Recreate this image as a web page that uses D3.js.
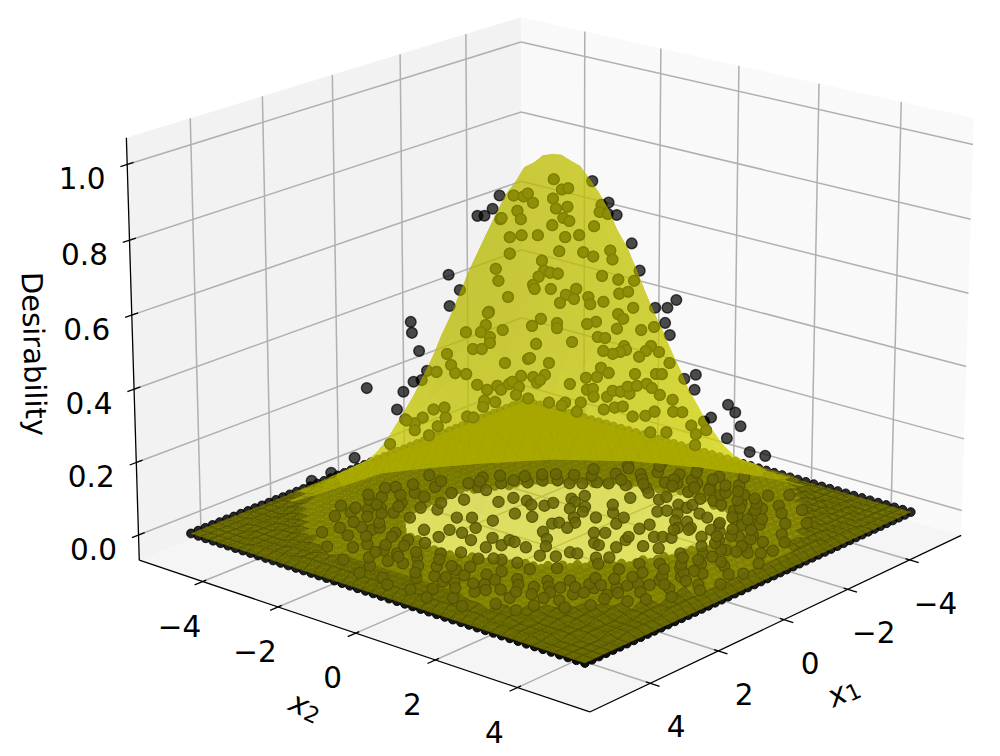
<!DOCTYPE html>
<html>
<head>
<meta charset="utf-8">
<script src="https://cdn.jsdelivr.net/npm/d3@7"></script>
<style>
  body { margin: 0; background: #fff; }
  text { font-family: "DejaVu Sans", sans-serif; fill: #000; }
</style>
</head>
<body>
<svg id="chart" width="1000" height="756"></svg>
<script>
// tick labels
const xTicks = [-4, -2, 0, 2, 4];
const zTicks = [0, 0.2, 0.4, 0.6, 0.8, 1.0];

// axis limits
const xLimits = [-5.72, 5.72];
const zLimits = [-0.07, 1.07];

// regular sample lattice, lies flat at desirability 0
const latticeTicks = [-5, -4.8, -4.6, -4.4, -4.2, -4, -3.8, -3.6, -3.4, -3.2, -3, -2.8, -2.6, -2.4, -2.2, -2, -1.8, -1.6, -1.4, -1.2, -1, -0.8, -0.6, -0.4, -0.2, 0, 0.2, 0.4, 0.6, 0.8, 1, 1.2, 1.4, 1.6, 1.8, 2, 2.2, 2.4, 2.6, 2.8, 3, 3.2, 3.4, 3.6, 3.8, 4, 4.2, 4.4, 4.6, 4.8, 5];

// surface mesh nodes
const surfaceTicks = [-5, -4.75, -4.5, -4.25, -4, -3.75, -3.5, -3.25, -3, -2.75, -2.5, -2.25, -2, -1.75, -1.5, -1.25, -1, -0.75, -0.5, -0.25, 0, 0.25, 0.5, 0.75, 1, 1.25, 1.5, 1.75, 2, 2.25, 2.5, 2.75, 3, 3.25, 3.5, 3.75, 4, 4.25, 4.5, 4.75, 5];

// surface height in percent, one quadrant, index = |x| / 0.25 (the peak looks symmetric)
const surfaceQuadrant = [
  [100, 99, 96, 92, 86, 79, 72, 64, 56, 48, 40, 33, 27, 21, 17, 13, 10, 7, 4, 2, 0],
  [99, 98, 96, 91, 86, 79, 71, 63, 55, 47, 40, 33, 26, 21, 16, 13, 9, 7, 4, 2, 0],
  [96, 96, 93, 89, 83, 77, 69, 61, 54, 46, 38, 32, 26, 20, 16, 12, 9, 7, 4, 2, 0],
  [92, 91, 89, 85, 79, 73, 66, 59, 51, 44, 37, 30, 25, 19, 15, 12, 9, 6, 4, 2, 0],
  [86, 86, 83, 79, 75, 69, 62, 55, 48, 41, 34, 28, 23, 18, 14, 11, 8, 6, 4, 2, 0],
  [79, 79, 77, 73, 69, 63, 57, 51, 44, 38, 32, 26, 21, 17, 13, 10, 8, 6, 4, 2, 0],
  [72, 71, 69, 66, 62, 57, 52, 46, 40, 34, 29, 24, 19, 15, 12, 9, 7, 5, 4, 2, 0],
  [64, 63, 61, 59, 55, 51, 46, 41, 35, 30, 25, 21, 17, 13, 11, 8, 6, 4, 3, 2, 0],
  [56, 55, 54, 51, 48, 44, 40, 35, 31, 26, 22, 18, 15, 12, 9, 7, 5, 4, 3, 2, 0],
  [48, 47, 46, 44, 41, 38, 34, 30, 26, 23, 19, 16, 13, 10, 8, 6, 5, 3, 2, 2, 0],
  [40, 40, 38, 37, 34, 32, 29, 25, 22, 19, 16, 13, 11, 8, 7, 5, 4, 3, 2, 1, 0],
  [33, 33, 32, 30, 28, 26, 24, 21, 18, 16, 13, 11, 9, 7, 5, 4, 3, 2, 2, 1, 0],
  [27, 26, 26, 25, 23, 21, 19, 17, 15, 13, 11, 9, 7, 6, 4, 3, 3, 2, 1, 1, 0],
  [21, 21, 20, 19, 18, 17, 15, 13, 12, 10, 8, 7, 6, 4, 3, 3, 2, 1, 1, 1, 0],
  [17, 16, 16, 15, 14, 13, 12, 11, 9, 8, 7, 5, 4, 3, 3, 2, 2, 1, 1, 1, 0],
  [13, 13, 12, 12, 11, 10, 9, 8, 7, 6, 5, 4, 3, 3, 2, 2, 1, 1, 1, 0, 0],
  [10, 9, 9, 9, 8, 8, 7, 6, 5, 5, 4, 3, 3, 2, 2, 1, 1, 1, 0, 0, 0],
  [7, 7, 7, 6, 6, 6, 5, 4, 4, 3, 3, 2, 2, 1, 1, 1, 1, 0, 0, 0, 0],
  [4, 4, 4, 4, 4, 4, 4, 3, 3, 2, 2, 2, 1, 1, 1, 1, 0, 0, 0, 0, 0],
  [2, 2, 2, 2, 2, 2, 2, 2, 2, 2, 1, 1, 1, 1, 1, 0, 0, 0, 0, 0, 0],
  [0, 0, 0, 0, 0, 0, 0, 0, 0, 0, 0, 0, 0, 0, 0, 0, 0, 0, 0, 0, 0]
];

// where the back of the surface stops showing through (on the z = 0 plane)
const arcX1 = [1.18, 0.13, -0.75, -1.58, -2.71, -3.7, -4.27, -4.67];
const arcX2 = [-4.51, -4.41, -3.85, -3.25, -2.29, -0.94, 0.3, 1.53];

// samples on and around the peak: x1, x2, desirability
const upperPoints = [
  [.66,-.78,.891],[.49,-.57,.891],[.75,-.88,.856],[.94,-1.1,.837],[.85,-1,.837],[.65,-.77,.828],[.36,-.43,.888],[.31,-.37,.896],[.44,-.52,.85],[.4,-.47,.828],
  [.54,-.63,.78],[.39,-.46,.785],[.54,-.63,.736],[1.3,-1.53,.679],[1.16,-1.37,.638],[.71,-.84,.695],[.68,-.8,.663],[.56,-.66,.619],[1.29,-1.52,.595],[.8,-.94,.579],
  [-.01,.01,.934],[-.49,.57,.929],[-.11,.13,.907],[-.19,.22,.91],[-.69,.81,.872],[-.79,.93,.839],[.25,-.29,.872],[0,0,.883],[-.04,.04,.856],[-.18,.21,.861],
  [-.6,.71,.866],[-.58,.68,.847],[-.68,.8,.842],[-.13,.15,.831],[-.2,.24,.823],[.01,-.01,.812],[-.51,.6,.809],[.64,-.75,.831],[.19,-.22,.785],[-.15,.18,.78],
  [-.33,.38,.785],[-.98,1.15,.763],[-.08,.09,.742],[-.38,.44,.739],[-.5,.59,.728],[-.71,.84,.744],[-.74,.87,.72],[.14,-.16,.717],[.11,-.13,.69],[.04,-.04,.685],
  [-.06,.07,.682],[.18,-.21,.674],[-1.08,1.27,.69],[-.61,.72,.676],[-.81,.96,.666],[-1.01,1.19,.663],[.25,-.29,.652],[.23,-.27,.641],[.03,-.03,.641],[-.29,.34,.641],
  [-.16,.19,.625],[-.26,.31,.614],[-.83,.97,.628],[-.94,1.1,.633],[-.44,.52,.619],[-.46,.55,.6],[-.09,.1,.603],[-.63,.74,.606],[-1.54,1.81,.611],[-1.28,1.5,.59],
  [-1.43,1.68,.59],[-1,1.18,.59],[1.78,-2.09,.552],[1.76,-2.08,.522],[1.68,-1.97,.473],[1.58,-1.86,.419],[2.34,-2.75,.372],[1.75,-2.06,.389],[1.65,-1.94,.394],[1.88,-2.21,.362],
  [1.96,-2.31,.313],[1.86,-2.19,.286],[2.05,-2.42,.218],[2.5,-2.95,.18],[.81,-.96,.576],[.84,-.99,.543],[1.09,-1.28,.524],[.9,-1.06,.524],[.63,-.74,.53],[.26,-.31,.541],
  [.79,-.93,.511],[.79,-.93,.495],[1,-1.18,.478],[.89,-1.05,.478],[1.33,-1.56,.465],[1.28,-1.5,.435],[1.23,-1.44,.413],[1.09,-1.28,.41],[1.46,-1.72,.416],[.21,-.25,.492],
  [.31,-.37,.451],[.6,-.71,.44],[.95,-1.12,.381],[.83,-.97,.367],[.7,-.82,.378],[.65,-.77,.367],[.55,-.65,.383],[.51,-.6,.389],[.43,-.5,.375],[.4,-.47,.405],
  [.25,-.29,.402],[.2,-.24,.386],[.46,-.55,.353],[.73,-.85,.334],[.86,-1.02,.337],[.88,-1.03,.321],[.31,-.37,.343],[1.5,-1.77,.313],[1.36,-1.61,.318],[1.35,-1.59,.291],
  [1.64,-1.93,.291],[1.74,-2.05,.275],[1.84,-2.17,.283],[1.74,-2.05,.256],[1.45,-1.71,.267],[1.08,-1.27,.294],[1,-1.18,.291],[1.56,-1.84,.242],[-1.4,1.65,.549],[-1.46,1.72,.516],
  [-.81,.96,.573],[-.88,1.03,.56],[-.54,.63,.552],[-.43,.5,.546],[-.8,.94,.533],[-1.1,1.3,.53],[-1.26,1.49,.538],[.15,-.18,.56],[-.05,.06,.549],[-.05,.06,.535],
  [-.56,.66,.511],[-.65,.77,.508],[-.24,.28,.497],[-.89,1.05,.486],[-.91,1.08,.476],[-.84,.99,.47],[-.75,.88,.465],[-.63,.74,.473],[-1.23,1.44,.486],[-1.16,1.37,.473],
  [-1.08,1.27,.457],[-1.33,1.56,.47],[-1.46,1.72,.44],[.05,-.06,.44],[.29,-.34,.454],[-.6,.71,.427],[-.7,.82,.413],[-.41,.49,.4],[-.55,.65,.402],[-1.03,1.21,.41],
  [-1.29,1.52,.41],[-1.36,1.61,.41],[-1.65,1.94,.397],[-1.79,2.11,.408],[-1.78,2.09,.367],[.1,-.12,.408],[.16,-.19,.394],[-.21,.25,.383],[-.43,.5,.367],[-.5,.59,.37],
  [-.51,.6,.348],[-.68,.8,.348],[-.75,.88,.364],[-.85,1,.362],[-.96,1.13,.356],[-.94,1.1,.375],[-1.05,1.24,.378],[-1.18,1.38,.383],[-1.24,1.46,.372],[-1.34,1.58,.353],
  [-1.5,1.77,.34],[-2.2,2.59,.326],[-2.29,2.7,.305],[-2.36,2.78,.267],[-1.99,2.34,.291],[-2.19,2.58,.234],[-2.48,2.92,.196],[-2.68,3.15,.185],[-1.51,1.78,.307],[-1.63,1.91,.305],
  [-1.9,2.24,.28],[-1.74,2.05,.269],[-1.8,2.12,.245],[-1.93,2.27,.256],[-.35,.41,.332],[-.15,.18,.332],[-.11,.13,.324],[.05,-.06,.332],[-.64,.75,.313],[-.78,.91,.318],
  [-.88,1.03,.321],[-1,1.18,.294],[-1.16,1.37,.296],[-1.28,1.5,.307],[-1.43,1.68,.25],[-1.23,1.44,.25],[-1.79,2.11,.215],[-.3,.35,.307],[2.8,-3.3,.139],[3.05,-3.59,.117]
];

// samples near the foot of the peak, desirability close to 0: x1, x2
const footPoints = [
  [-.17,-1.56],[-.53,-1.48],[-.58,-1.17],[-.47,-.96],[-.6,-.73],[-.83,-.7],[.11,-.89],[.02,-.52],[.68,-.97],[1.19,-.97],[.82,-1.39],[-1.24,-.57],[-1.53,-.47],[-1.15,-.41],[-.8,-.24],
  [-1.07,-.08],[-.84,.06],[-.48,.13],[-.28,.33],[-.76,.46],[.05,.02],[-.08,.09],[.03,.39],[.5,.17],[.74,.47],[1.05,.71],[1.34,.45],[-.1,.96],[-.24,1.13],[.31,1.31],
  [.34,1.45],[-.76,.98],[-1.11,.88],[-1.18,.55],[-1.51,.27],[-2.03,.29],[-2.66,.19],[-2.48,.39],[-2.52,-.23],[-2.38,-.56],[-2.32,.79],[-2.54,.8],[-1.79,1.18],[-1.95,1.29],[-2.35,1.26],
  [-1.96,1.55],[-2.33,1.49],[-2.53,1.47],[-2.89,1.38],[-3.03,.96],[-.84,1.5],[-1.14,1.51],[-1.63,1.76],[-1.36,2.04],[-1.74,1.97],[-1.53,2.23],[-2.24,1.88],[-2.17,2.13],[-2.02,2.54],[-2.97,1.65],
  [-2.9,1.9],[-3.32,1.55],[-2.81,2.3],[-3.24,2.14],[-3.62,1.91],[-2.6,2.56],[-1.7,2.6],[-1.73,2.79],[-1.76,3.24],[-2.44,2.96],[-3.25,2.65],[-2.54,3.15],[-1.84,3.77],[1.38,-.37],[1.84,-.14],
  [1.56,.02],[1.26,-.04],[1.27,.1],[1.74,-.61],[1.5,.94],[1.33,1.2],[.99,1.27],[.95,1.42],[2.06,.85],[2.14,.52],[2.19,.36],[2.38,.14],[.88,1.83],[.71,2.02],[.21,1.78],
  [-.2,1.68],[-.37,1.61],[-.17,2.14],[-.69,1.99],[-.8,2.12],[-.87,2.28],[-1.23,2.05],[-1.42,2.27],[-1.29,2.69],[-1.37,3.06],[-.28,2.44],[-.34,2.93],[-.62,3.26],[-1.04,3.49],[-1.41,3.69],
  [-1.34,4.11],[.59,2.67],[1.06,2.55],[1.1,2.07],[1.78,1.61],[2.16,1.25],[2.59,.91],[.34,2.97],[.26,3.41],[-.17,3.57],[-.37,3.98],[-.53,-2.41],[-.51,-2.18],[-.99,-2.2],[-1.28,-2.12],
  [-1.37,-1.83],[-1.65,-1.68],[-1.85,-1.45],[-1.88,-1.16],[-2.04,-.96],[-2.27,-.77],[-3.15,.27],[-3.27,.49],[-3.53,.79],[-3.53,1.13],[-3.47,1.56],[-3.99,1.5],[1.92,-1.67],[1.61,-2.32],[1.07,-2.52],
  [.93,-2.2],[1.01,-1.62],[2.43,-1.19],[2.02,-1.2],[1.6,-1.29],[1.56,-1],[1.61,-2.75],[1.58,-3.12],[1.82,-3.24],[2.4,-1.99],[2.53,-1.54],[3.23,-1.54],[3.19,-1.23],[3.1,-.79],[2.65,-.59],
  [2.35,-.33],[2.58,-2.44],[2.16,-3.39],[.53,-3.67],[.53,-3.16],[.02,-3.07],[.06,-2.6],[-.57,-2.7],[.18,-2.16],[.61,-2.39],[.57,-2.87],[1.11,-2.99],[1.12,-3.51],[1.4,-3.59],
  [3.1,.2],[3.4,-.5],[3.6,.6],[3,1.1],[3.9,-.1],[3.3,1.5],[2.8,1.9],[3.7,1.2],[4.1,.5],[2.5,2.3],[3.1,2.1],[2.1,2.8],[2.6,2.7],[1.8,3.1],[2.2,3.2],
  [1.4,3.3],[1.7,3.6],[1,3.5],[1.2,3.9],[.6,3.7],[.2,3.9],[.7,4.2],[-.1,4.3],[3.5,1.9],[3,2.7],[2.4,3.3],[1.9,3.9],[4.3,-.6],[4,-1.2],[3.7,-1.5],
  [3.5,-2.1],[3.1,-2.6],[2.9,-3],[2.5,-3.5],[2,-3.8],[4.2,1.1],[3.9,1.9],[3.5,2.5],[2.8,3.3],[1.5,4.2],[.9,4.4],[4.4,.2],[4.1,-1.8],[3.8,-2.5],[3.3,-3.1],
  [-3.8,-1.2],[-4,-.5],[-3.4,-.9],[-4.3,.2],[-4.1,.9],[-4.4,1.3],[-3.9,2.3],[-3.6,2.8],[-3.3,3.1],[-2.9,3.5],[-2.4,3.8],[-2,3.4],[-1.6,4.2],[-1.2,3.9],[-.9,4.4],
  [-.5,3.8],[-1,3.4],[-1.7,3.1],[-2.3,2.9],[-2.9,2.7],[-1.4,3.6],[-2.1,4.1],[-3.2,3.8],[-3.7,3.3],[-4.2,2.6],[-.3,4.5],[.4,4.5],[2.2,3.7],[3.2,3],[3.9,2.4],
  [4.4,1.5],[4.5,.7],[4.5,-.3],[4.4,-1.1],
  [2.9,.8],[3.2,.5],[3.4,.9],[3.6,.1],[3.7,.4],[3.3,1.1],[3.5,1.3],[2.7,1.4],[2.9,1.6],[3.2,1.8],[2.4,1.9],[2.6,2.1],[2.8,2.3],[3.1,2.4],[2.1,2.2],
  [2.3,2.5],[2,2.6],[2.4,2.8],[1.7,2.5],[1.9,2.8],[1.5,2.8],[1.6,3.2],[2,3.3],[1.2,3],[1.3,3.5],[.9,3],[.8,3.4],[1.1,3.7],[.5,3.2],[.4,3.6],
  [.1,3.3],[.2,3.7],[-.2,3.1],[-.3,3.4],[-.6,3.5],[.7,3.9],[3,0],[2.8,.3],[3.5,.3],[3.8,.8],[3.7,-.3],[3.2,-.2],[2.9,-.4],[3.5,-.8],[3.3,-1.1],
  [2.9,-1],[3.6,-1.1],[3.4,-1.6],[3,-1.7],[2.8,-1.4],[2.6,-1.9],[3.2,-2],[2.9,-2.3],[2.4,-2.4],[2.6,-2.7],[2.2,-2.6],[2.1,-3],[2.5,-3],[1.8,-2.9],[1.5,-3.3],
  [1.9,-3.5],[1.3,-2.9],[1.2,-3.8],[.8,-3.3],[.7,-3.8],[.2,-3.5],[-.3,-3.2],[-.4,-3.6],[-.9,3],[-1.2,3.1],[-1.5,2.9],[-1.1,3.7],[-1.8,3.5],[-2,2.9],[-2.2,3.2],
  [-2.1,2.5],[-2.5,2.5],[-2.6,2.8],[-2.8,3],[-3,2.3],[-3.1,2.6],[-3.4,2.4],[-3.3,2],[-3.6,2.2],[-3.7,1.7],[-3.4,1.2],[-3.8,1.3],[-3.9,.9],[-3.6,.6],[-3.3,.9],
  [-4,.4],[-3.7,.2],[-3.4,.3],[-3.1,.5],[-3.5,-.2],[-3.8,-.4],[-3.2,-.4],[-3,-.2],[-2.8,0],[-3.3,-.8],[-2.9,-.8],[-2.7,-.5],[-2.5,-1.1],[-2.8,-1.3],[-2.3,-1.4],
  [-2.1,-1.7],[-1.9,-1.9],[-1.6,-2.1],[-1.3,-2.5],[-1,-2.7],[-.8,-2.6]
];

// camera, fitted to the box corners
const elev = 19 * Math.PI / 180;
const azim = 40.3 * Math.PI / 180;
const dist = 16;
const zoom = 296;
const centerX = 553;
const centerY = 341;

const xScale = d3.scaleLinear().domain(xLimits).range([-1, 1]);
const zScale = d3.scaleLinear().domain(zLimits).range([-0.75, 0.75]);

function depthOf(x1, x2, z) {
  const g = xScale(x1) * Math.cos(azim) + xScale(x2) * Math.sin(azim);
  return g * Math.cos(elev) + zScale(z) * Math.sin(elev);
}

function project(x1, x2, z) {
  const X = xScale(x1), Y = xScale(x2), Z = zScale(z);
  const r = -X * Math.sin(azim) + Y * Math.cos(azim);
  const g = X * Math.cos(azim) + Y * Math.sin(azim);
  const up = -g * Math.sin(elev) + Z * Math.cos(elev);
  const f = dist / (dist - depthOf(x1, x2, z));
  return [centerX + zoom * r * f, centerY - zoom * up * f];
}

const polygon = d3.line().curve(d3.curveLinearClosed);
const [xMin, xMax] = xLimits;
const [zMin, zMax] = zLimits;

const svg = d3.select('#chart');
const defs = svg.append('defs');

// PANES AND GRID
const panes = svg.append('g');
function addPane(corners, color) {
  panes.append('path')
    .attr('d', polygon(corners.map(c => project(...c))))
    .attr('fill', color);
}
addPane([[xMax, xMin, zMin], [xMin, xMin, zMin], [xMin, xMin, zMax], [xMax, xMin, zMax]], '#f2f2f2');
addPane([[xMin, xMin, zMin], [xMin, xMax, zMin], [xMin, xMax, zMax], [xMin, xMin, zMax]], '#f9f9f9');
addPane([[xMin, xMin, zMin], [xMax, xMin, zMin], [xMax, xMax, zMin], [xMin, xMax, zMin]], '#f5f5f5');

const grid = svg.append('g').attr('stroke', '#b0b0b0').attr('stroke-width', 1.5).attr('fill', 'none');
function addLine(group, a, b) {
  const p = project(...a), q = project(...b);
  return group.append('line').attr('x1', p[0]).attr('y1', p[1]).attr('x2', q[0]).attr('y2', q[1]);
}
xTicks.forEach(t => {
  addLine(grid, [t, xMin, zMin], [t, xMin, zMax]);
  addLine(grid, [xMin, t, zMin], [xMin, t, zMax]);
  addLine(grid, [t, xMin, zMin], [t, xMax, zMin]);
  addLine(grid, [xMin, t, zMin], [xMax, t, zMin]);
});
zTicks.forEach(t => {
  addLine(grid, [xMax, xMin, t], [xMin, xMin, t]);
  addLine(grid, [xMin, xMin, t], [xMin, xMax, t]);
});

// AXES
const axes = svg.append('g').attr('stroke', '#000').attr('stroke-width', 1.3);
addLine(axes, [xMax, xMin, zMin], [xMax, xMin, zMax]);
addLine(axes, [xMax, xMin, zMin], [xMax, xMax, zMin]);
addLine(axes, [xMax, xMax, zMin], [xMin, xMax, zMin]);

function addTickLabel(label, pos, dx, dy) {
  svg.append('text')
    .attr('x', pos[0] + dx)
    .attr('y', pos[1] + dy)
    .attr('text-anchor', 'middle')
    .attr('dominant-baseline', 'central')
    .attr('font-size', 29.5)
    .text(label);
}
const fmt = d => String(d).replace('-', '\u2212');
xTicks.forEach(t => {
  addLine(axes, [xMax + 0.22, t, zMin], [xMax - 0.1, t, zMin]);
  addTickLabel(fmt(t), project(xMax, t, zMin), -23, 45);
  addLine(axes, [t, xMax + 0.22, zMin], [t, xMax - 0.1, zMin]);
  addTickLabel(fmt(t), project(t, xMax, zMin), 26, 44);
});
zTicks.forEach(t => {
  addLine(axes, [xMax + 0.18, xMin, t], [xMax - 0.17, xMin, t]);
  addTickLabel(d3.format('.1f')(t), project(xMax, xMin, t), -45, 15);
});

svg.append('text')
  .attr('transform', 'translate(34,354) rotate(88.3)')
  .attr('text-anchor', 'middle')
  .attr('dominant-baseline', 'central')
  .attr('font-size', 29)
  .text('Desirability');

function axisTitle(sub, cx, cy, angle) {
  const t = svg.append('text')
    .attr('transform', `translate(${cx},${cy}) rotate(${angle})`)
    .attr('text-anchor', 'middle')
    .attr('dominant-baseline', 'central')
    .attr('font-size', 30);
  t.append('tspan').attr('font-style', 'italic').text('x');
  t.append('tspan').attr('font-size', 22).attr('dy', 5).text(sub);
}
axisTitle('2', 306, 706, 25);
axisTitle('1', 843, 691, -25);

// CLIPS AROUND THE ARC
const arcPoints = arcX1.map((x, i) => [x, arcX2[i], 0]);
defs.append('clipPath').attr('id', 'aboveArc').append('path')
  .attr('d', polygon(arcPoints.concat([[xMin, xMax, zMax], [xMin, xMin, zMax], [xMax, xMin, zMax]]).map(c => project(...c))));
defs.append('clipPath').attr('id', 'belowArc').append('path')
  .attr('d', polygon(arcPoints.concat([[xMin, xMax, zMin], [xMax, xMax, zMin], [xMax, xMin, zMin]]).map(c => project(...c))));

// SAMPLES UNDER THE SURFACE
const latticeDepth = d3.scaleLinear().domain([-1.4, 1]).range([0.75, 0.95]).clamp(true);
const lattice = [];
latticeTicks.forEach(a => latticeTicks.forEach(b => {
  const across = -Math.sin(azim) * a + Math.cos(azim) * b;
  const along = Math.cos(azim) * a + Math.sin(azim) * b;
  if (((across - 0.3) / 3.2) ** 2 + (along / 2.2) ** 2 > 1) lattice.push([a, b, 0]);
}));
lattice.sort((p, q) => depthOf(...p) - depthOf(...q));

svg.append('g').selectAll('circle').data(lattice).join('circle')
  .attr('cx', d => project(...d)[0])
  .attr('cy', d => project(...d)[1])
  .attr('r', 4.4)
  .attr('fill', '#000')
  .attr('stroke', '#000')
  .attr('stroke-width', 1)
  .attr('fill-opacity', d => latticeDepth(depthOf(...d)))
  .attr('stroke-opacity', d => latticeDepth(depthOf(...d)));

// SURFACE FACES
const heightAt = (i, j) => surfaceQuadrant[Math.abs(i - 20)][Math.abs(j - 20)] / 100;
const faces = [];
d3.range(surfaceTicks.length - 1).forEach(i => d3.range(surfaceTicks.length - 1).forEach(j => {
  const corners = [
    [surfaceTicks[i], surfaceTicks[j], heightAt(i, j)],
    [surfaceTicks[i + 1], surfaceTicks[j], heightAt(i + 1, j)],
    [surfaceTicks[i + 1], surfaceTicks[j + 1], heightAt(i + 1, j + 1)],
    [surfaceTicks[i], surfaceTicks[j + 1], heightAt(i, j + 1)]
  ];
  const mean = d3.mean(corners, c => c[2]);
  const tilt = corners[1][2] - corners[3][2];
  const depth = d3.mean(corners, c => depthOf(...c));
  faces.push({ corners, mean, tilt, depth });
}));
faces.sort((a, b) => a.depth - b.depth);
const raised = faces.filter(d => d.mean > 0.02);
const facePath = d => polygon(d.corners.map(c => project(...c)));

function drawFaces(group, list, toneOf) {
  const color = d => {
    const c = Math.round(toneOf(d) + 50 * d.tilt);
    return `rgb(${c},${c},0)`;
  };
  group.selectAll('path').data(list).join('path')
    .attr('d', facePath)
    .attr('fill', color)
    .attr('stroke', d => (d.mean < 0.03 ? 'rgb(135,135,0)' : color(d)))
    .attr('stroke-width', 0.6);
}

defs.append('clipPath').attr('id', 'peakShape')
  .selectAll('path').data(raised).join('path').attr('d', facePath);

// back layer only above the arc
const backLayer = svg.append('g').attr('opacity', 0.4).attr('clip-path', 'url(#aboveArc)');
drawFaces(backLayer, raised, () => 210);

// samples around the peak sit between the two layers
const upperDots = (group) => group.selectAll('circle').data(upperPoints).join('circle')
  .attr('cx', d => project(...d)[0])
  .attr('cy', d => project(...d)[1])
  .attr('r', 5.3)
  .attr('stroke-width', 1.5);

upperDots(svg.append('g'))
  .attr('fill', '#000')
  .attr('stroke', '#000')
  .attr('fill-opacity', 0.7)
  .attr('stroke-opacity', 0.7);

const frontLayer = svg.append('g').attr('opacity', 0.6);
drawFaces(frontLayer, faces, d => (d.mean > 0.03 ? Math.max(184, 217 - 55 * d.mean) : 172));

// the back half of the flat part, seen through the peak
const lensCorners = arcPoints.concat([[-5, 5, 0], [-5, -5, 0], [5, -5, 0]]);
svg.append('g').attr('clip-path', 'url(#peakShape)').append('path')
  .attr('d', polygon(lensCorners.map(c => project(...c))))
  .attr('fill', 'rgb(172,172,0)')
  .attr('fill-opacity', 0.75);

// seen through the surface they turn olive
upperDots(svg.append('g').attr('clip-path', 'url(#peakShape)'))
  .attr('fill', 'rgb(142,142,8)')
  .attr('stroke', 'rgb(128,128,0)');

// foot samples show above the surface
svg.append('g').attr('clip-path', 'url(#belowArc)')
  .selectAll('circle').data(footPoints).join('circle')
  .attr('cx', d => project(d[0], d[1], 0)[0])
  .attr('cy', d => project(d[0], d[1], 0)[1])
  .attr('r', 5.6)
  .attr('fill', 'rgb(104,103,8)')
  .attr('fill-opacity', 0.88)
  .attr('stroke', 'rgb(82,81,0)')
  .attr('stroke-opacity', 0.9)
  .attr('stroke-width', 1.2);
</script>
</body>
</html>
